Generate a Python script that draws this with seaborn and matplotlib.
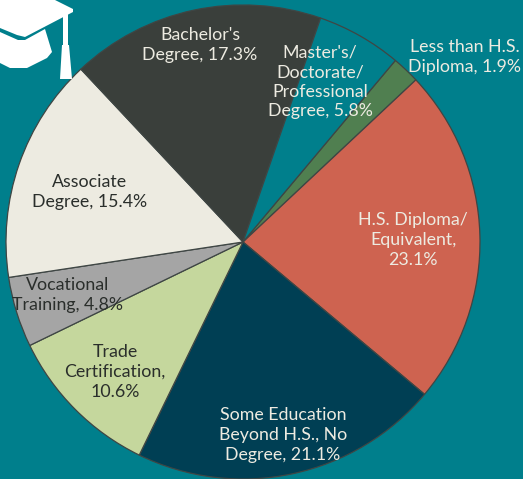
#!/usr/bin/env python3
import matplotlib
matplotlib.use("Agg")
import matplotlib.pyplot as plt
import seaborn as sns
from matplotlib.patches import Polygon

# clockwise, first slice starts about 40 deg past north
categories = ["Less than H.S.\nDiploma, 1.9%", "H.S. Diploma/\nEquivalent,\n23.1%",
              "Some Education\nBeyond H.S., No\nDegree, 21.1%", "Trade\nCertification,\n10.6%",
              "Vocational\nTraining, 4.8%", "Associate\nDegree, 15.4%",
              "Bachelor's\nDegree, 17.3%", "Master's/\nDoctorate/\nProfessional\nDegree, 5.8%"]
shares = [1.9, 23.1, 21.1, 10.6, 4.8, 15.4, 17.3, 5.8]
slice_colors = ["#507F50", "#CE6350", "#003F54", "#C5D79D", "#A5A5A5", "#EDEBE1", "#3A3F3B", "#007F8C"]
label_colors = ["#EDEBE1", "#EDEBE1", "#EDEBE1", "#2A2E2B", "#2A2E2B", "#2A2E2B", "#EDEBE1", "#EDEBE1"]
label_xy = [(465, 57), (413, 240), (283, 435), (115, 372), (68, 295), (90, 192), (200, 45), (320, 82)]

BG = "#007F8C"
W, H = 523, 479

sns.set_theme(style="white")
plt.rcParams["font.family"] = ["Lato", "DejaVu Sans"]

fig = plt.figure(figsize=(W / 100, H / 100), dpi=100, facecolor=BG)
ax = fig.add_axes([0, 0, 1, 1])
ax.pie(shares, colors=sns.color_palette(slice_colors), startangle=50, counterclock=False,
       center=(243, H - 242), radius=237,
       wedgeprops={"edgecolor": "#3F4644", "linewidth": 0.9})
ax.set_xlim(0, W)
ax.set_ylim(0, H)
ax.set_aspect("equal")
ax.set_axis_off()

for name, col, (x, y) in zip(categories, label_colors, label_xy):
    ax.text(x, H - y, name, color=col, ha="center", va="center", fontsize=12.8, linespacing=1.28)

# graduation cap, top left corner
board = [(0, -2), (55, -2), (55, 0), (73, 9), (73, 12), (25, 37), (17, 35), (0, 28)]
base = [(0, 32), (18, 40), (25, 40), (45, 29), (52, 52), (47, 58), (27, 68), (10, 68), (0, 63)]
tassel = [(63, 14), (68, 14), (68, 45), (69, 45), (72, 79), (60, 79), (62, 45), (63, 45)]
for pts in (board, base, tassel):
    ax.add_patch(Polygon([(x, H - y) for x, y in pts], closed=True, facecolor="white", edgecolor="none"))

fig.savefig("out.png", dpi=100, facecolor=BG)
